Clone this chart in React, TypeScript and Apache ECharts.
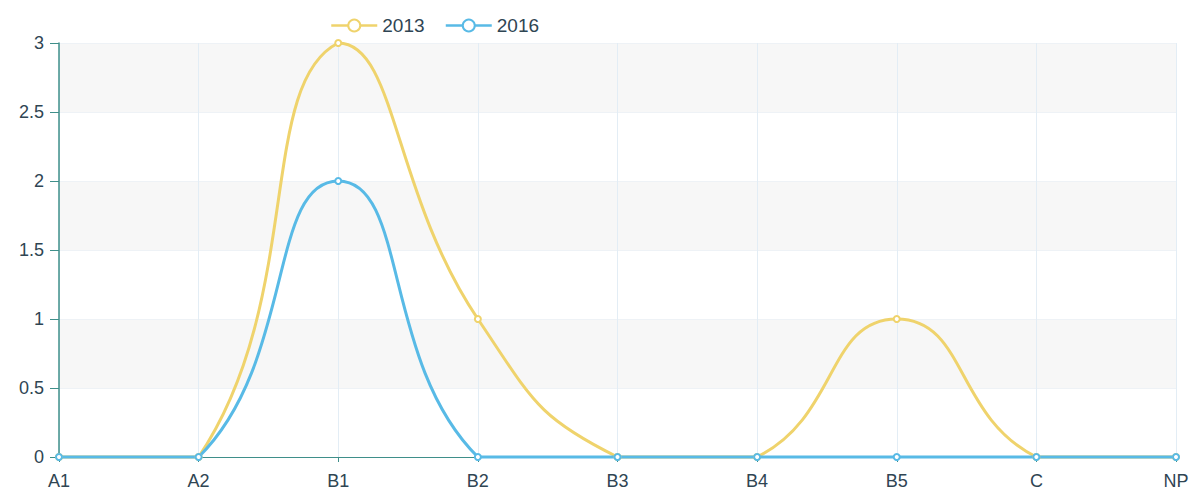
import React, { useEffect, useRef } from "react";
import * as echarts from "echarts";

const categories = ["A1", "A2", "B1", "B2", "B3", "B4", "B5", "C", "NP"];
const series2013 = [0, 0, 3, 1, 0, 0, 1, 0, 0];
const series2016 = [0, 0, 2, 0, 0, 0, 0, 0, 0];
const legendNames = ["2013", "2016"];
const colors = ["#efd36c", "#58bae6"];

// Classic (ECharts 2-4 style) bezier smoothing, computed on the points that the axes give.
function makeCurve(values: number[], color: string) {
  return (params: any, api: any) => {
    if (params.dataIndex !== 0) return null;
    const pts = values.map((v, i) => api.coord([i, v]) as number[]);
    const xs = pts.map((p) => p[0]);
    const ys = pts.map((p) => p[1]);
    const minX = Math.min(...xs), maxX = Math.max(...xs);
    const minY = Math.min(...ys), maxY = Math.max(...ys);
    const clamp = (p: number[]) => [
      Math.max(minX, Math.min(maxX, p[0])),
      Math.max(minY, Math.min(maxY, p[1])),
    ];
    const smooth = 0.5;
    let d = `M${pts[0][0]},${pts[0][1]}`;
    let cp0 = [pts[0][0], pts[0][1]];
    for (let i = 1; i < pts.length; i++) {
      const p = pts[i];
      const prev = pts[i - 1];
      const next = pts[i + 1];
      let v = [0, 0];
      let ratio = 0.5;
      let cp1: number[];
      if (!next) {
        cp1 = [p[0], p[1]];
      } else {
        v = [next[0] - prev[0], next[1] - prev[1]];
        const lp = Math.hypot(p[0] - prev[0], p[1] - prev[1]);
        const ln = Math.hypot(next[0] - p[0], next[1] - p[1]);
        ratio = ln / (ln + lp);
        cp1 = [p[0] - v[0] * smooth * (1 - ratio), p[1] - v[1] * smooth * (1 - ratio)];
      }
      const c0 = clamp(cp0);
      const c1 = clamp(cp1);
      d += ` C${c0[0]},${c0[1]} ${c1[0]},${c1[1]} ${p[0]},${p[1]}`;
      cp0 = [p[0] + v[0] * smooth * ratio, p[1] + v[1] * smooth * ratio];
    }
    return {
      type: "path",
      shape: { pathData: d },
      style: { fill: "none", stroke: color, lineWidth: 3, lineJoin: "round" },
      silent: true,
    };
  };
}

export default function App() {
  const ref = useRef<HTMLDivElement>(null);
  useEffect(() => {
    if (!ref.current) return;
    const chart = echarts.init(ref.current, undefined, { renderer: "svg" });
    chart.setOption({
      animation: false,
      color: colors,
      textStyle: { fontFamily: "Liberation Sans, Arial, sans-serif" },
      legend: {
        data: legendNames,
        left: 325,
        top: 11,
        itemWidth: 46,
        itemHeight: 15,
        itemGap: 20,
        lineStyle: { width: 2.5, opacity: 1 },
        textStyle: { fontSize: 19, color: "#2f4553" },
      },
      grid: { left: 59, right: 27, top: 43, bottom: 41, containLabel: false },
      xAxis: {
        type: "category",
        data: categories,
        boundaryGap: false,
        axisLine: { lineStyle: { color: "#3f8f8a", width: 1 } },
        axisTick: { show: true, length: 5, lineStyle: { color: "#3f8f8a" } },
        axisLabel: { fontSize: 18, color: "#2f4553", margin: 15 },
        splitLine: { show: true, lineStyle: { color: "#e3edf5" } },
      },
      yAxis: {
        type: "value",
        min: 0,
        max: 3,
        interval: 0.5,
        axisLine: { show: true, lineStyle: { color: "#3f8f8a", width: 1.5 } },
        axisTick: { show: true, length: 9, lineStyle: { color: "#3f8f8a" } },
        axisLabel: { fontSize: 18, color: "#2f4553", margin: 15 },
        splitLine: { show: true, lineStyle: { color: "#eef2f6" } },
        splitArea: {
          show: true,
          areaStyle: { color: ["rgba(255,255,255,0)", "rgba(235,235,235,0.4)"] },
        },
      },
      series: [
        {
          name: "2013 curve",
          type: "custom",
          data: series2013.map((v, i) => [i, v]),
          encode: { x: 0, y: 1 },
          renderItem: makeCurve(series2013, colors[0]),
          z: 2,
          silent: true,
        },
        {
          name: "2016 curve",
          type: "custom",
          data: series2016.map((v, i) => [i, v]),
          encode: { x: 0, y: 1 },
          renderItem: makeCurve(series2016, colors[1]),
          z: 3,
          silent: true,
        },
        {
          name: legendNames[0],
          type: "line",
          data: series2013,
          symbol: "emptyCircle",
          symbolSize: 6,
          lineStyle: { width: 3, opacity: 0 },
          z: 4,
        },
        {
          name: legendNames[1],
          type: "line",
          data: series2016,
          symbol: "emptyCircle",
          symbolSize: 6,
          lineStyle: { width: 3, opacity: 0 },
          z: 5,
        },
      ],
    });
    return () => chart.dispose();
  }, []);
  return <div ref={ref} style={{ width: 1203, height: 498, position: "absolute", left: 0, top: 0 }} />;
}
